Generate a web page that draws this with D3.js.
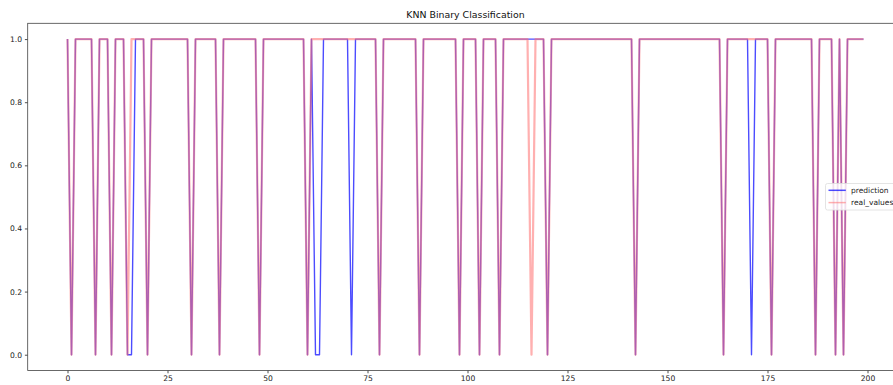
<!DOCTYPE html>
<html>
<head>
<meta charset="utf-8">
<script src="https://cdn.jsdelivr.net/npm/d3@7"></script>
<style>
  body { margin: 0; background: #fff; }
  svg { display: block; font-family: "DejaVu Sans", sans-serif; }
</style>
</head>
<body>
<div id="chart"></div>
<script>
// 200 samples, 0/1 class labels
const prediction = [
  1,0,1,1,1,1,1,0,1,1,1,0,1,1,1,0,0,1,1,1,
  0,1,1,1,1,1,1,1,1,1,1,0,1,1,1,1,1,1,0,1,
  1,1,1,1,1,1,1,1,0,1,1,1,1,1,1,1,1,1,1,1,
  0,1,0,0,1,1,1,1,1,1,1,0,1,1,1,1,1,1,0,1,
  1,1,1,1,1,1,1,1,0,1,1,1,1,1,1,1,1,1,0,1,
  1,1,1,0,1,1,1,1,0,1,1,1,1,1,1,1,1,1,1,1,
  0,1,1,1,1,1,1,1,1,1,1,1,1,1,1,1,1,1,1,1,
  1,1,0,1,1,1,1,1,1,1,1,1,1,1,1,1,1,1,1,1,
  1,1,1,1,0,1,1,1,1,1,1,0,1,1,1,1,0,1,1,1,
  1,1,1,1,1,1,1,0,1,1,1,1,0,1,0,1,1,1,1,1
];
const real_values = [
  1,0,1,1,1,1,1,0,1,1,1,0,1,1,1,0,1,1,1,1,
  0,1,1,1,1,1,1,1,1,1,1,0,1,1,1,1,1,1,0,1,
  1,1,1,1,1,1,1,1,0,1,1,1,1,1,1,1,1,1,1,1,
  0,1,1,1,1,1,1,1,1,1,1,1,1,1,1,1,1,1,0,1,
  1,1,1,1,1,1,1,1,0,1,1,1,1,1,1,1,1,1,0,1,
  1,1,1,0,1,1,1,1,0,1,1,1,1,1,1,1,0,1,1,1,
  0,1,1,1,1,1,1,1,1,1,1,1,1,1,1,1,1,1,1,1,
  1,1,0,1,1,1,1,1,1,1,1,1,1,1,1,1,1,1,1,1,
  1,1,1,1,0,1,1,1,1,1,1,1,1,1,1,1,0,1,1,1,
  1,1,1,1,1,1,1,0,1,1,1,1,0,1,0,1,1,1,1,1
];
const xTicks = [0, 25, 50, 75, 100, 125, 150, 175, 200];
const yTicks = [0.0, 0.2, 0.4, 0.6, 0.8, 1.0];
const seriesNames = ["prediction", "real_values"];
const title = "KNN Binary Classification";

const width = 893, height = 385;
// axes box (right edge runs past the window, like the cropped original)
const plotLeft = 27.7, plotRight = 903.3, plotTop = 23.3, plotBottom = 370.5;

const n = prediction.length;
const xPad = (n - 1) * 0.05;
const x = d3.scaleLinear().domain([-xPad, n - 1 + xPad]).range([plotLeft, plotRight]);
const y = d3.scaleLinear().domain([-0.05, 1.05]).range([plotBottom, plotTop]);

const svg = d3.select("#chart").append("svg")
  .attr("width", width)
  .attr("height", height);

const line = d3.line().x((d, i) => x(i)).y(d => y(d));

// red layer is a light red so the overlap reads as the orchid purple of the original
const styles = [
  { color: "#0000ff", opacity: 0.7, width: 1.4 },
  { color: "#ff7070", opacity: 0.55, width: 2.2 }
];

[prediction, real_values].forEach((series, i) => {
  svg.append("path")
    .datum(series)
    .attr("fill", "none")
    .attr("stroke", styles[i].color)
    .attr("stroke-opacity", styles[i].opacity)
    .attr("stroke-width", styles[i].width)
    .attr("stroke-linejoin", "round")
    .attr("d", line);
});

// axes
const xAxis = svg.append("g")
  .attr("transform", `translate(0,${plotBottom})`)
  .call(d3.axisBottom(x).tickValues(xTicks).tickFormat(d3.format("d")).tickSize(2.8).tickPadding(2.5).tickSizeOuter(0));
const yAxis = svg.append("g")
  .attr("transform", `translate(${plotLeft},0)`)
  .call(d3.axisLeft(y).tickValues(yTicks).tickFormat(d3.format(".1f")).tickSize(2.8).tickPadding(2.8).tickSizeOuter(0));

[xAxis, yAxis].forEach(g => {
  g.select(".domain").remove();
  g.selectAll(".tick line").attr("stroke", "#000").attr("stroke-width", 0.7);
  g.selectAll(".tick text").attr("fill", "#222").style("font-size", "7.6px").style("font-family", "DejaVu Sans");
});

// spines
svg.append("rect")
  .attr("x", plotLeft).attr("y", plotTop)
  .attr("width", plotRight - plotLeft).attr("height", plotBottom - plotTop)
  .attr("fill", "none")
  .attr("stroke", "#444")
  .attr("stroke-width", 0.8);

svg.append("text")
  .attr("x", (plotLeft + plotRight) / 2)
  .attr("y", 18)
  .attr("text-anchor", "middle")
  .attr("fill", "#111")
  .style("font-size", "9.4px")
  .text(title);

// legend
const legend = svg.append("g").attr("transform", "translate(825.5,183.5)");
legend.append("rect")
  .attr("width", 90).attr("height", 26.5)
  .attr("rx", 2)
  .attr("fill", "#fff").attr("fill-opacity", 0.8)
  .attr("stroke", "#ddd").attr("stroke-width", 0.8);
seriesNames.forEach((name, i) => {
  const row = legend.append("g").attr("transform", `translate(0,${6.8 + i * 12.3})`);
  row.append("line")
    .attr("x1", 3).attr("x2", 20.3)
    .attr("stroke", styles[i].color)
    .attr("stroke-opacity", styles[i].opacity)
    .attr("stroke-width", 1.5);
  row.append("text")
    .attr("x", 25.5)
    .attr("dy", "0.35em")
    .attr("fill", "#222")
    .style("font-size", "7.5px")
    .text(name);
});
</script>
</body>
</html>
